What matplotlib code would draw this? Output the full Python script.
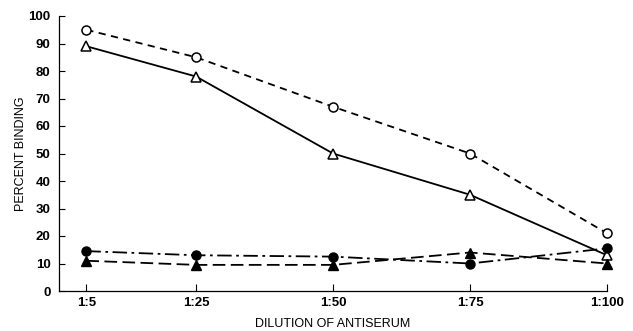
import matplotlib
matplotlib.use("Agg")
import matplotlib.pyplot as plt

dilutions = [5, 25, 50, 75, 100]
tick_labels = ["1:5", "1:25", "1:50", "1:75", "1:100"]
open_circle = [95, 85, 67, 50, 21]
open_triangle = [89, 78, 50, 35, 13]
filled_circle = [14.5, 13, 12.5, 10, 15.5]
filled_triangle = [11, 9.5, 9.5, 14, 10]

plt.rcParams['font.family'] = ['Liberation Sans', 'DejaVu Sans']
fig = plt.figure(figsize=(6.33, 3.31), dpi=100)
ax = fig.add_axes([59/633, 40/331, 548/633, 275/331])

lw = 1.3
ax.plot(dilutions, open_circle, color='black', lw=lw, ls=(0, (4, 3)),
        marker='o', ms=6.5, mfc='white', mec='black', mew=1.1, zorder=3, clip_on=False)
ax.plot(dilutions, open_triangle, color='black', lw=lw, ls='-',
        marker='^', ms=7, mfc='white', mec='black', mew=1.1, zorder=3, clip_on=False)
ax.plot(dilutions, filled_circle, color='black', lw=lw, ls=(0, (8, 2.5, 1.5, 2.5)),
        marker='o', ms=6.5, mfc='black', mec='black', zorder=3, clip_on=False)
ax.plot(dilutions, filled_triangle, color='black', lw=lw, ls=(0, (7, 3)),
        marker='^', ms=7, mfc='black', mec='black', zorder=3, clip_on=False)

ax.set_xlim(0, 100)
ax.set_ylim(0, 100)
ax.set_xticks(dilutions)
ax.set_xticklabels(tick_labels, fontsize=9.5, fontweight='bold')
ax.set_yticks(range(0, 101, 10))
ax.set_yticklabels([str(v) for v in range(0, 101, 10)], fontsize=9.5, fontweight='bold')
ax.tick_params(axis='x', direction='in', length=5, width=0.8, pad=4)
ax.tick_params(axis='y', direction='in', length=4, width=0.8, pad=6)
for s in ['top', 'right']:
    ax.spines[s].set_visible(False)
for s in ['left', 'bottom']:
    ax.spines[s].set_linewidth(0.9)

ax.set_ylabel("PERCENT BINDING", fontsize=9, labelpad=1)
ax.set_xlabel("DILUTION OF ANTISERUM", fontsize=9, labelpad=7)

fig.savefig("out.png", dpi=100)
